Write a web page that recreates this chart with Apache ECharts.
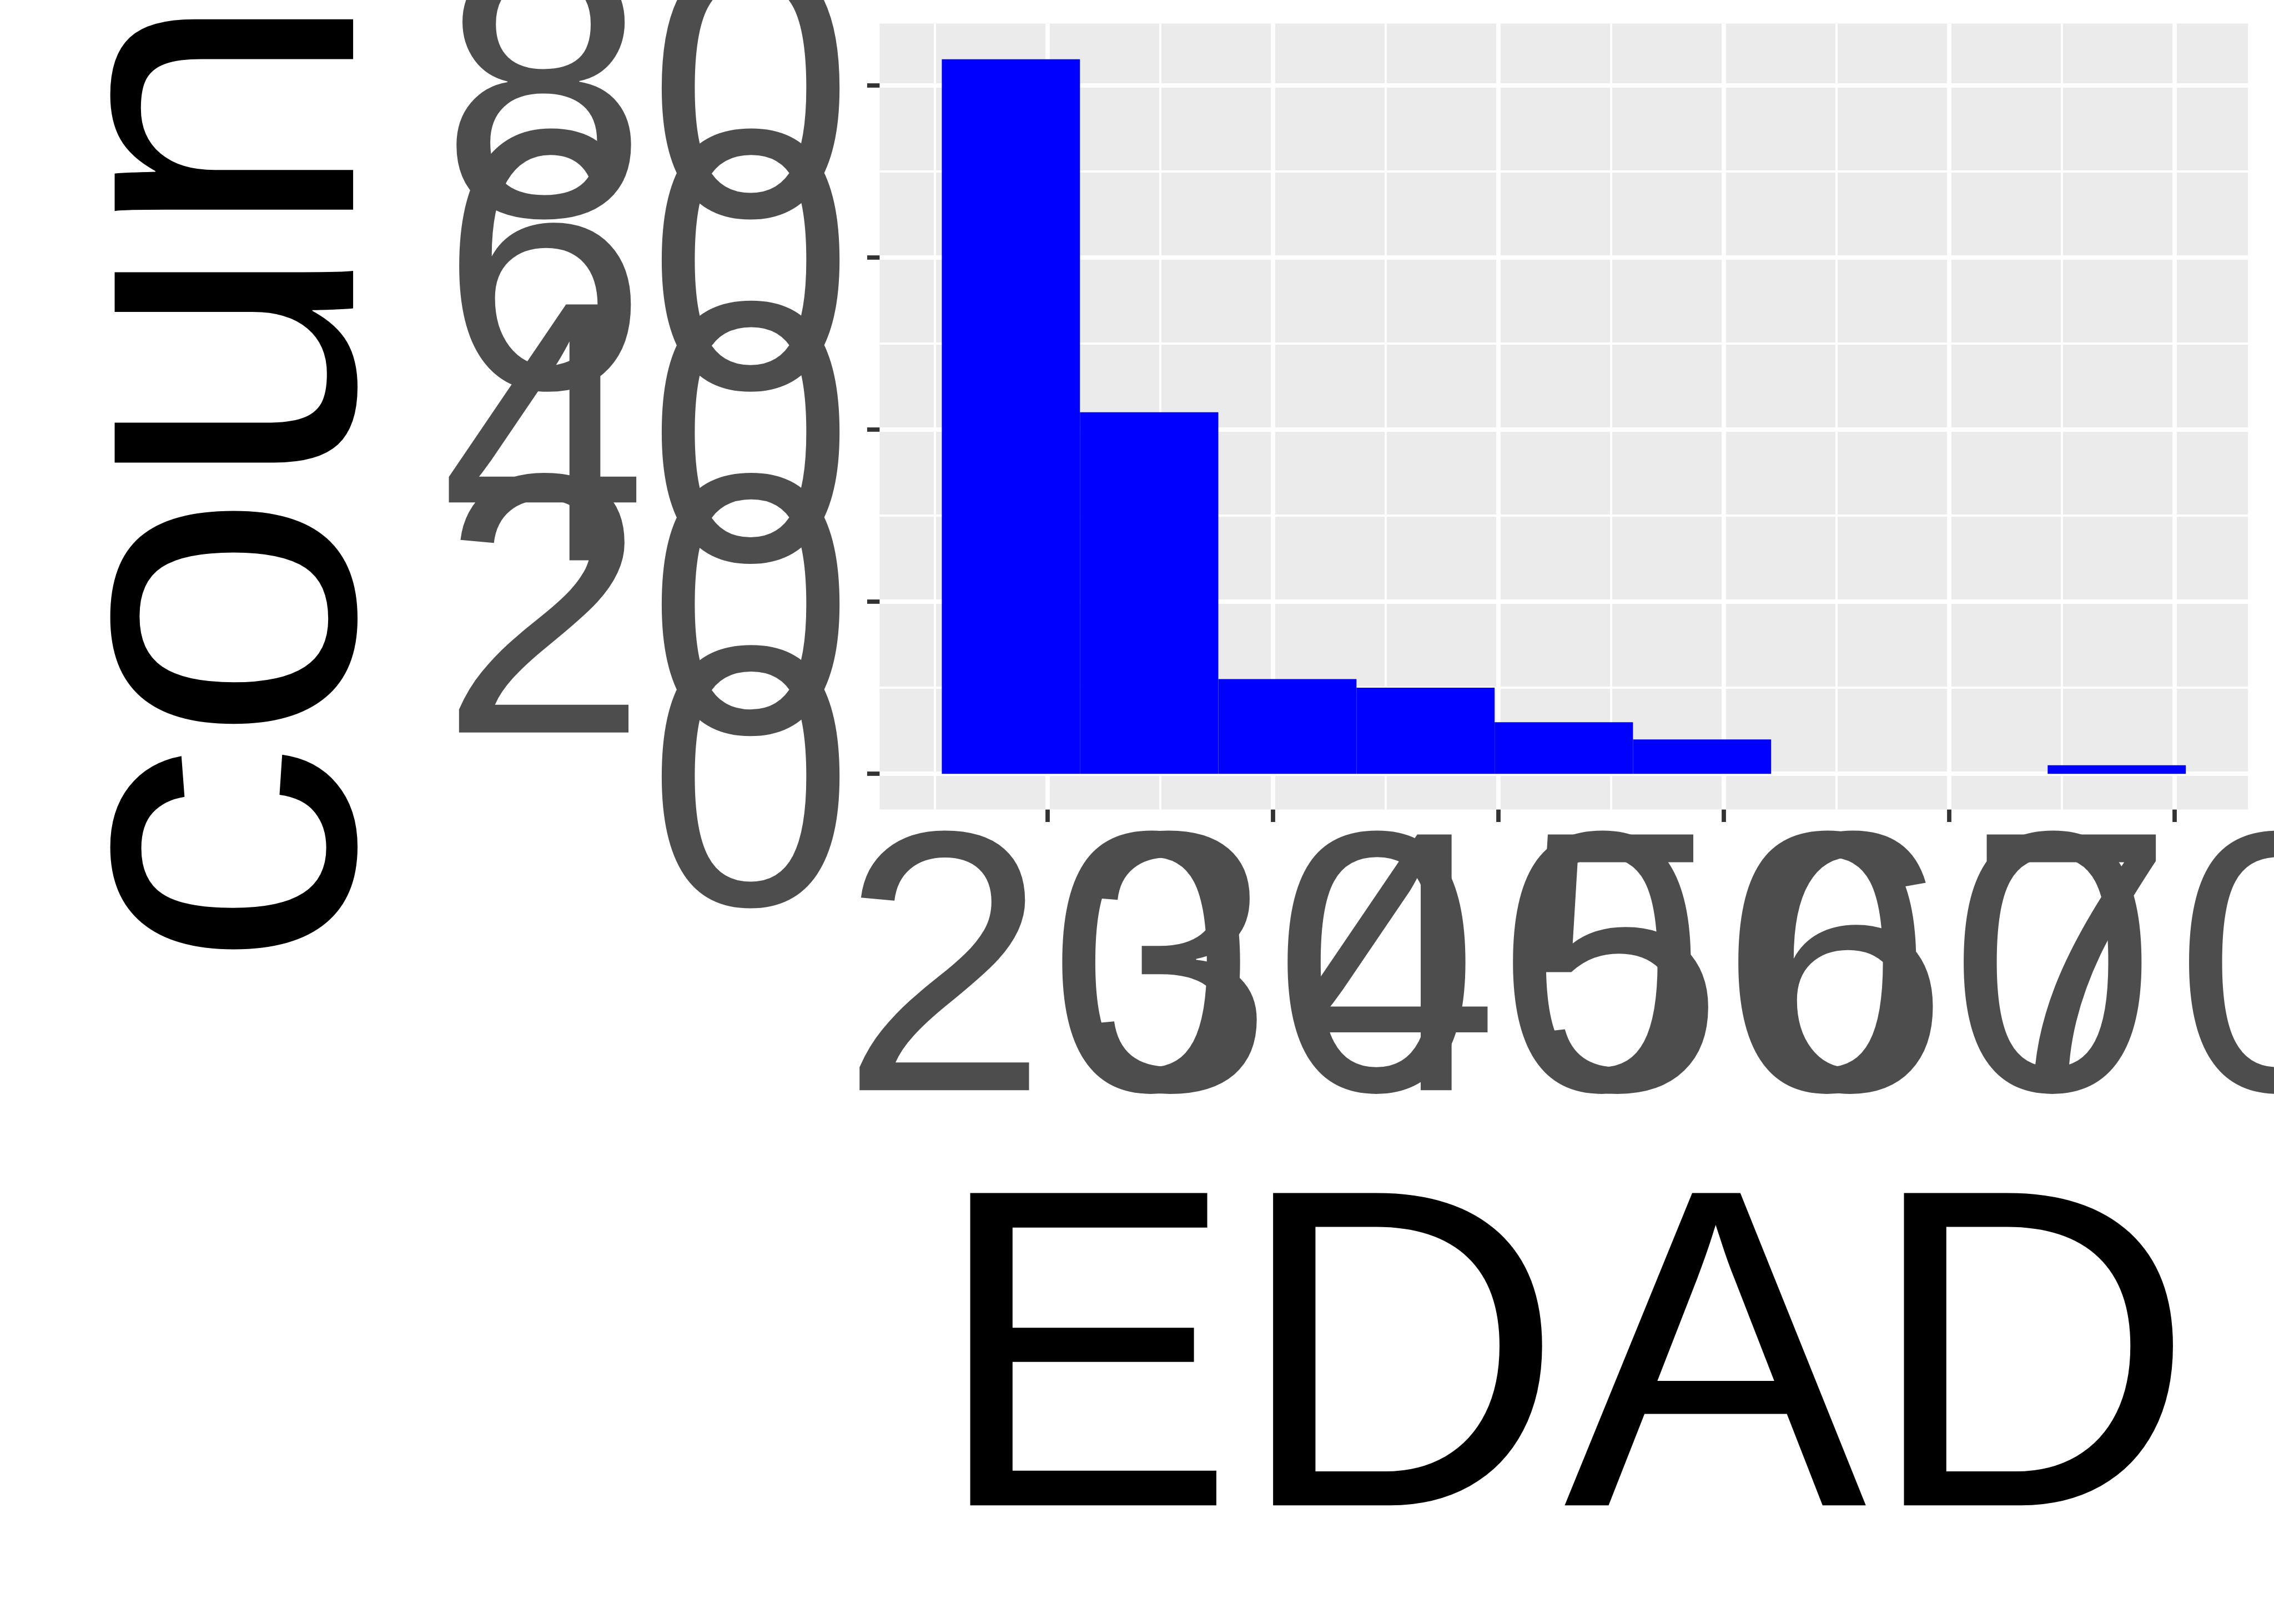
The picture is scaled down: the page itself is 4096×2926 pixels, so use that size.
<!DOCTYPE html>
<html><head><meta charset="utf-8">
<script src="https://cdn.jsdelivr.net/npm/echarts@6/dist/echarts.min.js"></script>
<style>html,body{margin:0;padding:0;background:#fff}#c{width:4096px;height:2926px}</style>
</head><body><div id="c"></div>
<script>
// Histogram of EDAD (bins)
const binStarts = [15.30, 21.43, 27.57, 33.70, 39.83, 45.97, 52.10, 58.23, 64.37];
const binEnds   = [21.43, 27.57, 33.70, 39.83, 45.97, 52.10, 58.23, 64.37, 70.50];
const counts    = [83, 42, 11, 10, 6, 4, 0, 0, 1];
const xTicks = [20, 30, 40, 50, 60, 70];
const xMinor = [15, 25, 35, 45, 55, 65];
const yTicks = [0, 20, 40, 60, 80];
const yMinor = [10, 30, 50, 70];
const xTitle = 'EDAD';
const yTitle = 'count';

const S = 0.975;
const FONT = '"Liberation Sans", Arial, sans-serif';
const chart = echarts.init(document.getElementById('c'), null, {renderer: 'canvas'});
const xMin = 12.54, xMax = 73.26, yMin = -4.15, yMax = 87.15;

const tickStyle = {show: true, length: 23 * S, lineStyle: {color: '#333333', width: 8 * S}};
const noLine = {show: false, onZero: false};

// one axis per tick label, so the huge overlapping labels are all kept
function xLabelAxis(v) {
  return {
    type: 'value', min: xMin, max: xMax, position: 'bottom',
    axisLine: noLine, splitLine: {show: false},
    axisTick: Object.assign({customValues: [v]}, tickStyle),
    axisLabel: {customValues: [v], fontSize: 670, color: '#4D4D4D', fontFamily: FONT, margin: -14,
                hideOverlap: false, showMinLabel: true, showMaxLabel: true}
  };
}
function yLabelAxis(v) {
  return {
    type: 'value', min: yMin, max: yMax, position: 'left',
    axisLine: noLine, splitLine: {show: false},
    axisTick: Object.assign({customValues: [v]}, tickStyle),
    axisLabel: {customValues: [v], fontSize: 670, color: '#4D4D4D', fontFamily: FONT, margin: 46,
                verticalAlign: 'top', lineHeight: 102,
                hideOverlap: false, showMinLabel: true, showMaxLabel: true}
  };
}

chart.setOption({
  animation: false,
  backgroundColor: '#ffffff',
  grid: {
    left: 1625 * S, top: 43.5 * S, right: 4096 - 4153 * S, bottom: 2926 - 1496 * S,
    show: true, backgroundColor: '#EBEBEB', borderWidth: 0,
    containLabel: false, outerBoundsMode: 'none'
  },
  xAxis: [
    {
      type: 'value', min: xMin, max: xMax, position: 'bottom',
      axisLine: noLine,
      axisTick: {show: false, customValues: xTicks},
      axisLabel: {show: false, customValues: xTicks},
      splitLine: {show: true, lineStyle: {color: '#ffffff', width: 8 * S}},
      name: xTitle, nameLocation: 'middle', nameGap: 619, nameMoveOverlap: false,
      nameTextStyle: {fontSize: 818, color: '#000000', fontFamily: FONT}
    },
    {
      type: 'value', min: xMin, max: xMax, position: 'bottom',
      axisLine: noLine,
      axisTick: {show: false, customValues: xMinor},
      axisLabel: {show: false, customValues: xMinor},
      splitLine: {show: true, lineStyle: {color: '#ffffff', width: 4 * S}}
    }
  ].concat(xTicks.map(xLabelAxis)),
  yAxis: [
    {
      type: 'value', min: yMin, max: yMax, position: 'left',
      axisLine: noLine,
      axisTick: {show: false, customValues: yTicks},
      axisLabel: {show: false, customValues: yTicks},
      splitLine: {show: true, lineStyle: {color: '#ffffff', width: 8 * S}},
      name: yTitle, nameLocation: 'middle', nameGap: 766, nameRotate: 90, nameMoveOverlap: false,
      nameTextStyle: {fontSize: 813, color: '#000000', fontFamily: FONT}
    },
    {
      type: 'value', min: yMin, max: yMax, position: 'left',
      axisLine: noLine,
      axisTick: {show: false, customValues: yMinor},
      axisLabel: {show: false, customValues: yMinor},
      splitLine: {show: true, lineStyle: {color: '#ffffff', width: 4 * S}}
    }
  ].concat(yTicks.map(yLabelAxis)),
  series: [{
    type: 'custom',
    xAxisIndex: 0, yAxisIndex: 0,
    encode: {x: [0, 1], y: 2},
    data: binStarts.map((s, i) => [s, binEnds[i], counts[i]]),
    renderItem: function (params, api) {
      const p0 = api.coord([api.value(0), 0]);
      const p1 = api.coord([api.value(1), api.value(2)]);
      return {
        type: 'rect',
        shape: {x: p0[0], y: p1[1], width: p1[0] - p0[0], height: p0[1] - p1[1]},
        style: {fill: '#0000FF'}
      };
    }
  }]
});
</script></body></html>
